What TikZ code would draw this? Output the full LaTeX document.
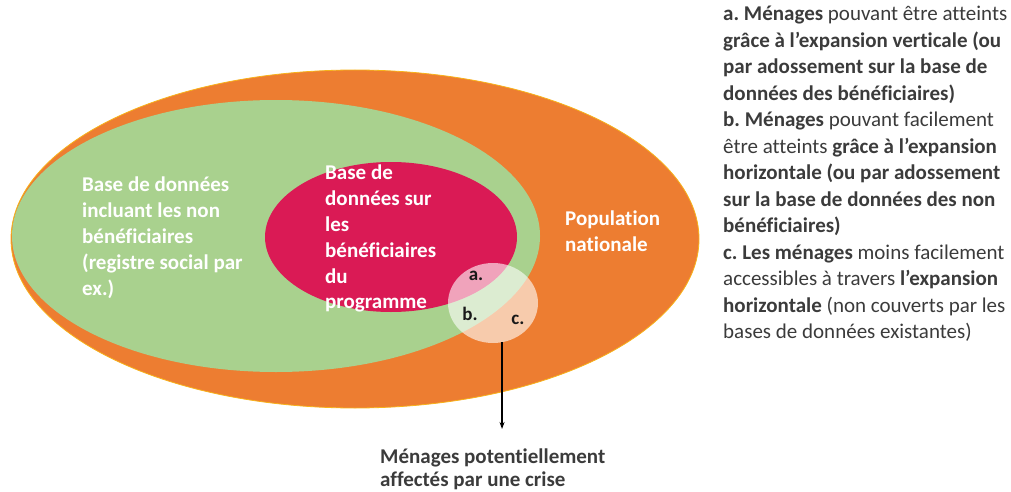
\documentclass[tikz,border=0pt]{standalone}
\usepackage{fontspec}
\setmainfont{Carlito}[Ligatures=NoCommon]
\usetikzlibrary{shapes.geometric,arrows.meta}
\definecolor{popOrange}{HTML}{ED7D31}
\definecolor{popEdge}{HTML}{F7B21A}
\definecolor{regGreen}{HTML}{A9D18E}
\definecolor{benRed}{HTML}{DA1A55}
\definecolor{txtGray}{HTML}{3B3B3B}
\tikzset{
  zone/.style={ellipse, inner sep=0pt, outer sep=0pt},
  whitelabel/.style={anchor=north west, inner sep=0pt, align=left, text=white,
    font=\fontsize{21}{25.8}\selectfont\bfseries},
  letter/.style={inner sep=0pt, text=black!90, font=\fontsize{19}{22}\selectfont\bfseries},
  note/.style={anchor=north west, inner sep=0pt, align=left, text=txtGray,
    font=\fontsize{21}{26.5}\selectfont},
  pointer/.style={draw=black, line width=1.3pt, -{Stealth[length=7pt,width=5pt]}}
}
\begin{document}
\frenchspacing
\begin{tikzpicture}[x=1pt,y=-1pt]
\useasboundingbox (0,0) rectangle (1011,492);
% nested populations
\node[zone, fill=popOrange, draw=popEdge, line width=0.8pt,
      minimum width=688pt, minimum height=338pt] (pop) at (355,239) {};
\node[zone, fill=regGreen, minimum width=528pt, minimum height=272pt] (reg) at (276,236) {};
\node[zone, fill=benRed, minimum width=252pt, minimum height=150pt] (ben) at (391,237) {};
% households hit by a crisis
\node[zone, fill=white, fill opacity=0.6, minimum width=90pt, minimum height=80pt] (crise) at (493,303) {};
% zone labels
\node[whitelabel] (regtxt) at (82,177) {Base de données\\incluant les non\\bénéficiaires\\(registre social par\\ex.)};
\node[whitelabel] (bentxt) at (325,165) {Base de\\données sur\\les\\bénéficiaires\\du\\programme};
\node[whitelabel] (poptxt) at (565,211) {Population\\nationale};
\node[letter] (la) at (476,276) {a.};
\node[letter] (lb) at (470,314) {b.};
\node[letter] (lc) at (518,320) {c.};
% pointer to the caption
\coordinate (tip) at (502,429);
\draw[pointer] (crise.-77) -- (crise.-77 |- tip);
\node[note, font=\fontsize{21}{22.5}\selectfont\bfseries] (caption) at (380,449)
  {Ménages potentiellement\\affectés par une crise};
% legend
\node[note] (legend) at (723,6) {%
\textbf{a. Ménages} pouvant être atteints\\
\textbf{grâce à l’expansion verticale (ou}\\
\textbf{par adossement sur la base de}\\
\textbf{données des bénéficiaires)}\\
\textbf{b. Ménages} pouvant facilement\\
être atteints \textbf{grâce à l’expansion}\\
\textbf{horizontale (ou par adossement}\\
\textbf{sur la base de données des non}\\
\textbf{bénéficiaires)}\\
\textbf{c. Les ménages} moins facilement\\
accessibles à travers \textbf{l’expansion}\\
\textbf{horizontale} (non couverts par les\\
bases de données existantes)};
\end{tikzpicture}
\end{document}
